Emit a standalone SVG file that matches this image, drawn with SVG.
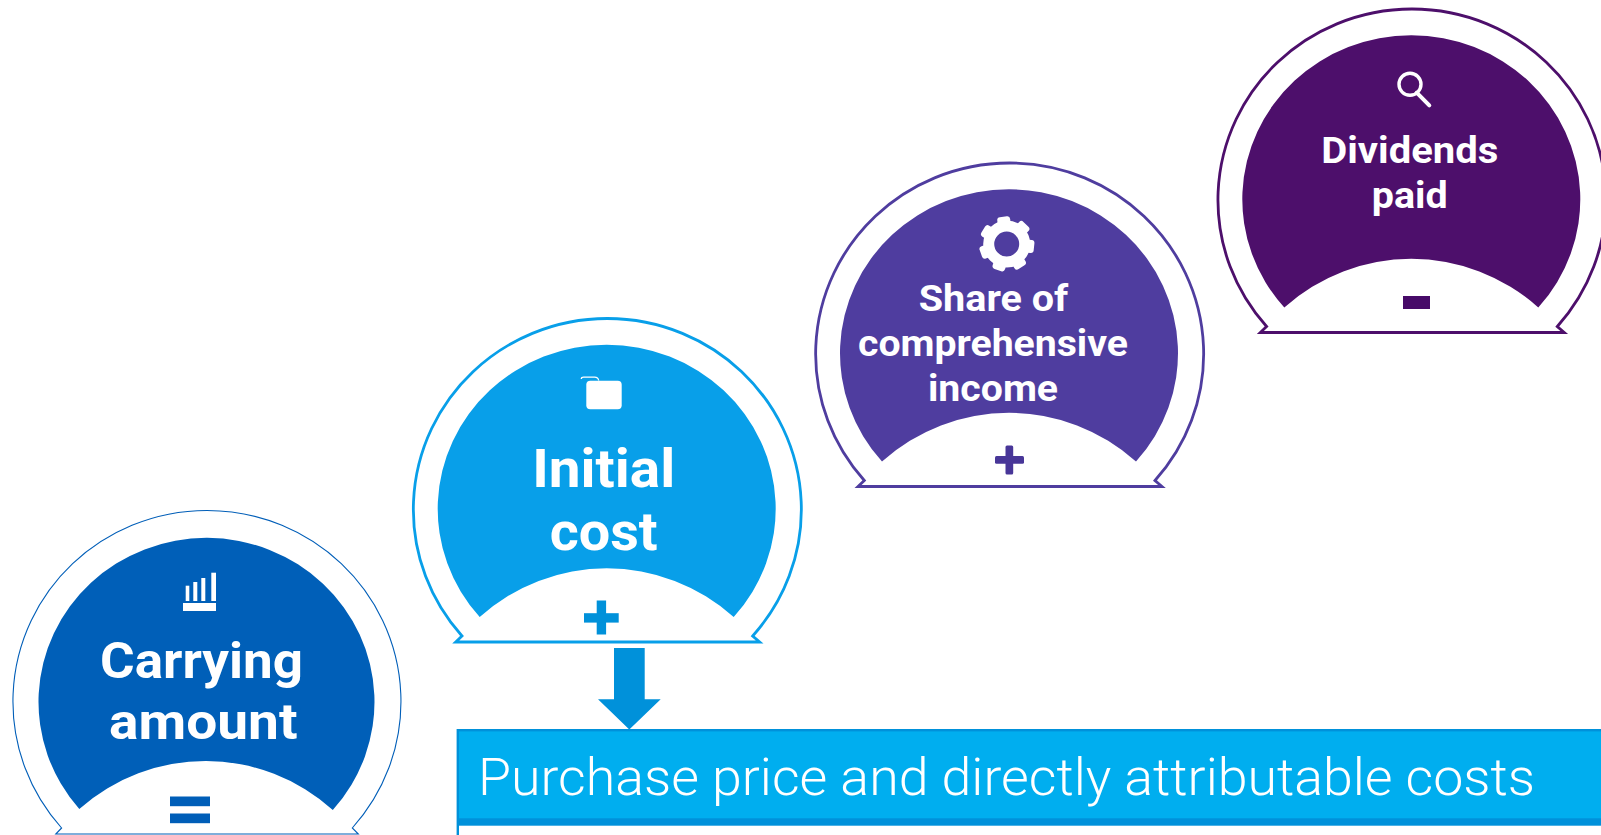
<svg xmlns="http://www.w3.org/2000/svg" width="1601" height="835" viewBox="0 0 1601 835">
<style>
text{font-family:Roboto,"Liberation Sans",sans-serif}
.lbl{fill:#fff;font-weight:700;text-anchor:middle}
.banner{fill:#fff;font-weight:300;font-size:52px}
.out{fill:#fff;stroke-width:2.8}
.ico{fill:#fff}
</style>
<defs>
<path id="shell" d="M-144.7,127.5 L-151,133.5 L153,133.5 L146,127.5 A194,191 0 1 0 -144.7,127.5 Z"/>
<path id="dome" d="M-127,108.5 A169,164 0 1 1 127,108.5 A190,190 0 0 0 -127,108.5 Z"/>
<rect id="tooth" x="-6.5" y="-27.5" width="13" height="13" rx="3" fill="#fff"/>
</defs>
<rect width="1601" height="835" fill="#fff"/>

<g id="node-dividends" transform="translate(1411.3,199)">
<use href="#shell" class="out" stroke="#4d0f6b"/>
<use href="#dome" fill="#4d0f6b"/>
<circle cx="-1.3" cy="-114.7" r="11" fill="none" stroke="#fff" stroke-width="3.4"/>
<line x1="5.4" y1="-106.3" x2="18" y2="-93.7" stroke="#fff" stroke-width="4" stroke-linecap="round"/>
<text class="lbl" x="-1.5" y="-35.6" font-size="37" textLength="177" lengthAdjust="spacingAndGlyphs">Dividends</text>
<text class="lbl" x="-1.5" y="9.4" font-size="37" textLength="76" lengthAdjust="spacingAndGlyphs">paid</text>
<rect x="-8.3" y="97" width="27" height="13" fill="#470A68"/>
</g>

<g id="node-share" transform="translate(1009,353)">
<use href="#shell" class="out" stroke="#4f3d9f"/>
<use href="#dome" fill="#4f3d9f"/>
<g transform="translate(-2.3,-109)">
<circle r="18" fill="none" stroke="#fff" stroke-width="11"/>
<use href="#tooth" transform="rotate(-7)"/>
<use href="#tooth" transform="rotate(44.4)"/>
<use href="#tooth" transform="rotate(95.9)"/>
<use href="#tooth" transform="rotate(147.3)"/>
<use href="#tooth" transform="rotate(198.7)"/>
<use href="#tooth" transform="rotate(250)"/>
<use href="#tooth" transform="rotate(301.6)"/>
</g>
<text class="lbl" x="-15.5" y="-41.6" font-size="37" textLength="149.5" lengthAdjust="spacingAndGlyphs">Share of</text>
<text class="lbl" x="-16" y="3.4" font-size="37" textLength="270" lengthAdjust="spacingAndGlyphs">comprehensive</text>
<text class="lbl" x="-16" y="48.4" font-size="37" textLength="130" lengthAdjust="spacingAndGlyphs">income</text>
<rect x="-3.5" y="92.5" width="7.7" height="29" rx="1.5" fill="#483698"/>
<rect x="-14" y="103" width="29" height="7.7" rx="1.5" fill="#483698"/>
</g>

<g id="node-initial" transform="translate(606.7,508.5)">
<use href="#shell" class="out" stroke="#089fe9"/>
<use href="#dome" fill="#089fe9"/>
<rect x="-20.4" y="-127.8" width="35.4" height="28.6" rx="4" class="ico"/>
<path d="M-25.4,-129.5 Q-25.4,-131.3 -23,-131.3 L-12,-131.3 Q-8.6,-131.3 -8,-128" fill="none" stroke="#fff" stroke-width="1.3"/>
<text class="lbl" x="-3" y="-22" font-size="53" textLength="143" lengthAdjust="spacingAndGlyphs">Initial</text>
<text class="lbl" x="-3" y="41.5" font-size="53" textLength="108" lengthAdjust="spacingAndGlyphs">cost</text>
<rect x="-10" y="92" width="9.4" height="34" fill="#0091DA"/>
<rect x="-22.7" y="104.7" width="34.7" height="9.4" fill="#0091DA"/>
</g>

<g id="node-carrying" transform="translate(206.3,702)">
<path d="M-144.7,126 L-150.5,132 L152,132 L146,126 A194,191 0 1 0 -144.7,126 Z" fill="#fff" stroke="#005EB8" stroke-width="1.1"/>
<path d="M-127,107 A168,164 0 1 1 126.5,108 A190,190 0 0 0 -127,107 Z" fill="#005FB8"/>
<g class="ico">
<rect x="-20.6" y="-116.3" width="3.6" height="15.3"/>
<rect x="-13" y="-120" width="4" height="19"/>
<rect x="-5" y="-124" width="4" height="23"/>
<rect x="5" y="-129.3" width="4.7" height="28.3"/>
<rect x="-23.3" y="-99" width="33" height="8"/>
</g>
<text class="lbl" x="-4.8" y="-24" font-size="50" textLength="203" lengthAdjust="spacingAndGlyphs">Carrying</text>
<text class="lbl" x="-3" y="36.7" font-size="50" textLength="188.5" lengthAdjust="spacingAndGlyphs">amount</text>
<rect x="-36.3" y="94.5" width="40" height="9.7" fill="#005EB8"/>
<rect x="-36.3" y="111.5" width="40" height="9.7" fill="#005EB8"/>
</g>

<g id="node-banner">
<rect x="457" y="729" width="1144" height="90" fill="#00AEEF"/>
<rect x="457" y="729" width="1144" height="2.4" fill="#0091DA"/>
<rect x="457" y="818.3" width="1144" height="7.4" fill="#0091DA"/>
<rect x="456.6" y="729" width="2.4" height="106" fill="#0091DA"/>
<text class="banner" x="478" y="795" textLength="1057" lengthAdjust="spacingAndGlyphs">Purchase price and directly attributable costs</text>
</g>

<g id="connectors">
<path d="M614,648 H644.7 V699.3 H660.7 L629.3,729.5 L598,699.3 H614 Z" fill="#0091DA"/>
</g>
</svg>
